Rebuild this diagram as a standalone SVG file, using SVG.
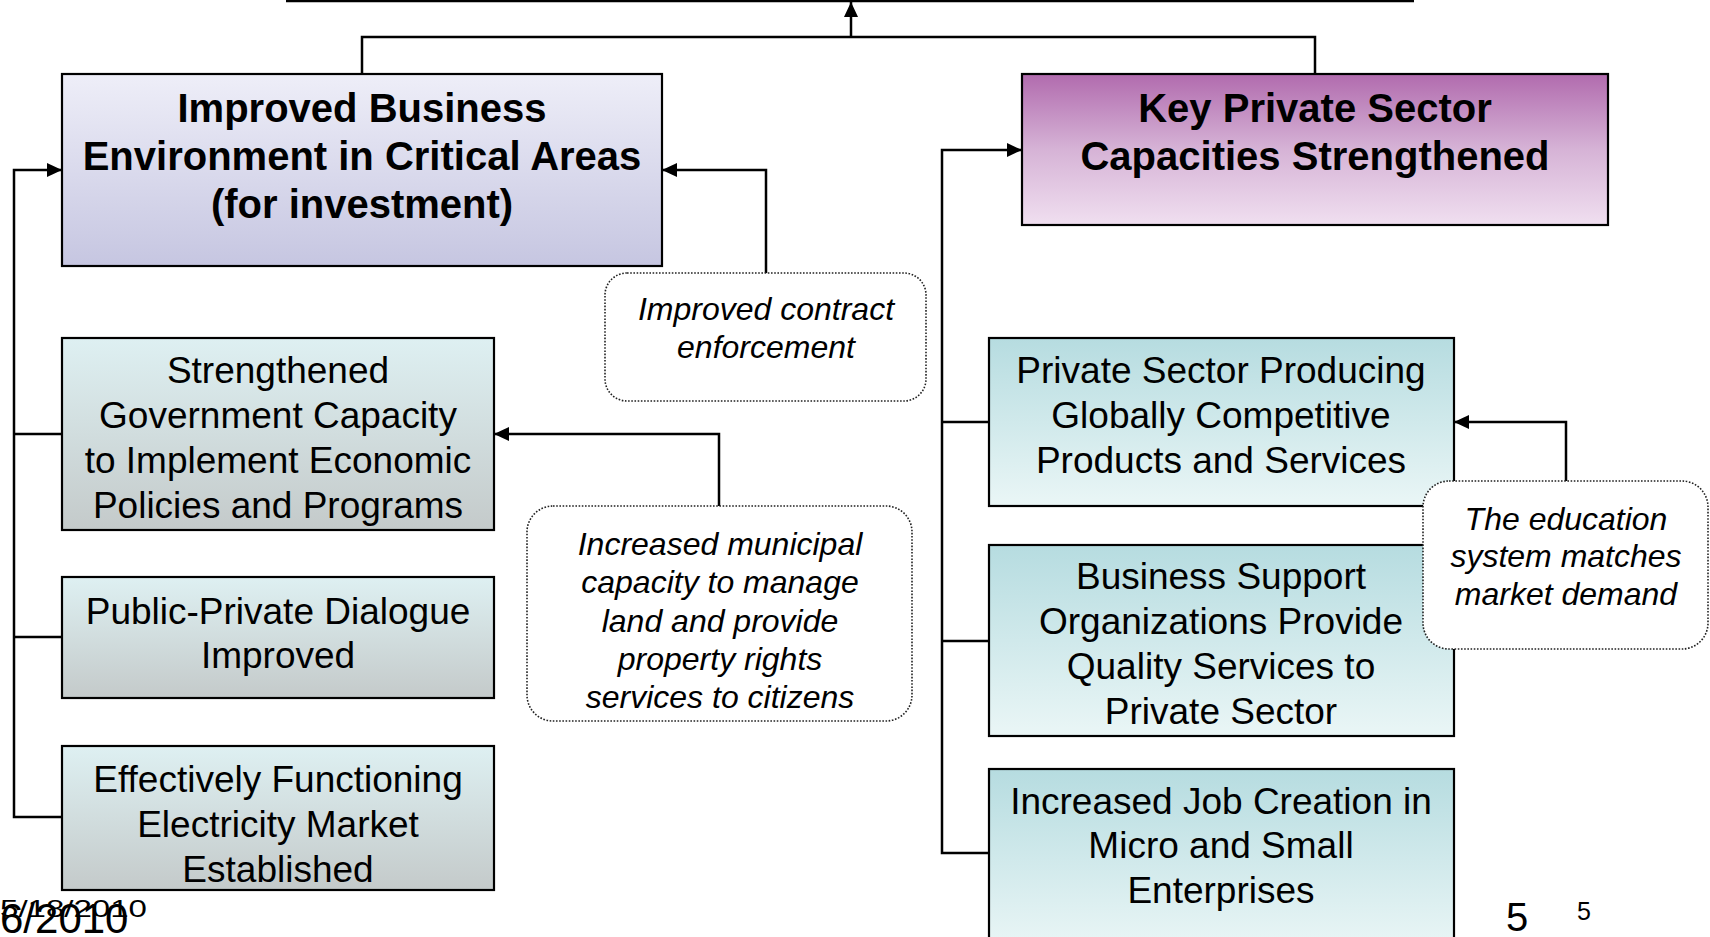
<svg xmlns="http://www.w3.org/2000/svg" width="1710" height="937" viewBox="0 0 1710 937">
<defs>
<linearGradient id="gBlue" x1="0" y1="0" x2="0" y2="1"><stop offset="0" stop-color="#EEEEF8"/><stop offset="1" stop-color="#C6C6E1"/></linearGradient>
<linearGradient id="gPurple" x1="0" y1="0" x2="0" y2="1"><stop offset="0" stop-color="#B16BAE"/><stop offset="0.5" stop-color="#D6B3D6"/><stop offset="1" stop-color="#F0DFF0"/></linearGradient>
<linearGradient id="gGray" x1="0" y1="0" x2="0" y2="1"><stop offset="0" stop-color="#DEF0F2"/><stop offset="1" stop-color="#C4CACA"/></linearGradient>
<linearGradient id="gTeal" x1="0" y1="0" x2="0" y2="1"><stop offset="0" stop-color="#B6DCE0"/><stop offset="1" stop-color="#EAF6F6"/></linearGradient>
<marker id="arr" markerUnits="userSpaceOnUse" markerWidth="16" markerHeight="16" refX="15" refY="7" orient="auto"><path d="M0,0 L15,7 L0,14 z" fill="#000"/></marker>
</defs>
<style>
.box{stroke:#000;stroke-width:2.2}
.call{fill:#fff;stroke:#222;stroke-width:1.6;stroke-dasharray:1.6 1.6}
.con{fill:none;stroke:#000;stroke-width:2.5}
.hd{font-family:"Liberation Sans",Arial,sans-serif;font-weight:bold;font-size:40px;text-anchor:middle;fill:#000}
.tx{font-family:"Liberation Sans",Arial,sans-serif;font-size:37px;text-anchor:middle;fill:#000}
.it{font-family:"Liberation Sans",Arial,sans-serif;font-style:italic;font-size:32px;text-anchor:middle;fill:#000}
.ft{font-family:"Liberation Sans",Arial,sans-serif;fill:#000}
</style>
<rect width="1710" height="937" fill="#fff"/>
<g id="connectors">
<path class="con" d="M286,1 L1414,1" stroke-width="3.5"/>
<path class="con" d="M362,74 L362,37 L1315,37 L1315,74"/>
<path class="con" d="M851,37 L851,2" marker-end="url(#arr)"/>
<path class="con" d="M62,817 L14,817 L14,170 L62,170" marker-end="url(#arr)"/>
<path class="con" d="M14,434 L62,434 M14,637 L62,637"/>
<path class="con" d="M766,273 L766,170 L662,170" marker-end="url(#arr)"/>
<path class="con" d="M719,506 L719,434 L494,434" marker-end="url(#arr)"/>
<path class="con" d="M989,853 L942,853 L942,150 L1022,150" marker-end="url(#arr)"/>
<path class="con" d="M942,422 L989,422 M942,641 L989,641"/>
<path class="con" d="M1566,481 L1566,422 L1454,422" marker-end="url(#arr)"/>
</g>
<g id="improved-business">
<rect class="box" x="62" y="74" width="600" height="192" fill="url(#gBlue)"/>
<text class="hd" x="362" y="122">Improved Business</text>
<text class="hd" x="362" y="170">Environment in Critical Areas</text>
<text class="hd" x="362" y="218">(for investment)</text>
</g>
<g id="key-private">
<rect class="box" x="1022" y="74" width="586" height="151" fill="url(#gPurple)"/>
<text class="hd" x="1315" y="122">Key Private Sector</text>
<text class="hd" x="1315" y="170">Capacities Strengthened</text>
</g>
<g id="strengthened-gov">
<rect class="box" x="62" y="338" width="432" height="192" fill="url(#gGray)"/>
<text class="tx" x="278" y="383">Strengthened</text>
<text class="tx" x="278" y="428">Government Capacity</text>
<text class="tx" x="278" y="473">to Implement Economic</text>
<text class="tx" x="278" y="518">Policies and Programs</text>
</g>
<g id="public-private">
<rect class="box" x="62" y="577" width="432" height="121" fill="url(#gGray)"/>
<text class="tx" x="278" y="624">Public-Private Dialogue</text>
<text class="tx" x="278" y="668">Improved</text>
</g>
<g id="electricity">
<rect class="box" x="62" y="746" width="432" height="144" fill="url(#gGray)"/>
<text class="tx" x="278" y="792">Effectively Functioning</text>
<text class="tx" x="278" y="837">Electricity Market</text>
<text class="tx" x="278" y="882">Established</text>
</g>
<g id="contract-callout">
<rect class="call" x="605" y="273" width="321" height="128" rx="22"/>
<text class="it" x="766" y="320">Improved contract</text>
<text class="it" x="766" y="358">enforcement</text>
</g>
<g id="municipal-callout">
<rect class="call" x="527" y="506" width="385" height="215" rx="26"/>
<text class="it" x="720" y="555">Increased municipal</text>
<text class="it" x="720" y="593">capacity to manage</text>
<text class="it" x="720" y="632">land and provide</text>
<text class="it" x="720" y="670">property rights</text>
<text class="it" x="720" y="708">services to citizens</text>
</g>
<g id="globally-competitive">
<rect class="box" x="989" y="338" width="465" height="168" fill="url(#gTeal)"/>
<text class="tx" x="1221" y="383">Private Sector Producing</text>
<text class="tx" x="1221" y="428">Globally Competitive</text>
<text class="tx" x="1221" y="473">Products and Services</text>
</g>
<g id="business-support">
<rect class="box" x="989" y="545" width="465" height="191" fill="url(#gTeal)"/>
<text class="tx" x="1221" y="589">Business Support</text>
<text class="tx" x="1221" y="634">Organizations Provide</text>
<text class="tx" x="1221" y="679">Quality Services to</text>
<text class="tx" x="1221" y="724">Private Sector</text>
</g>
<g id="job-creation">
<rect class="box" x="989" y="769" width="465" height="180" fill="url(#gTeal)"/>
<text class="tx" x="1221" y="814">Increased Job Creation in</text>
<text class="tx" x="1221" y="858">Micro and Small</text>
<text class="tx" x="1221" y="903">Enterprises</text>
</g>
<g id="education-callout">
<rect class="call" x="1423" y="481" width="285" height="168" rx="26"/>
<text class="it" x="1566" y="530">The education</text>
<text class="it" x="1566" y="567">system matches</text>
<text class="it" x="1566" y="605">market demand</text>
</g>
<g id="footer">
<text class="ft" x="0" y="917" font-size="24" textLength="147" lengthAdjust="spacingAndGlyphs">5/18/2010</text>
<text class="ft" x="0" y="933" font-size="42">6/2010</text>
<text class="ft" x="1506" y="931" font-size="40">5</text>
<text class="ft" x="1577" y="920" font-size="25">5</text>
</g>
</svg>
